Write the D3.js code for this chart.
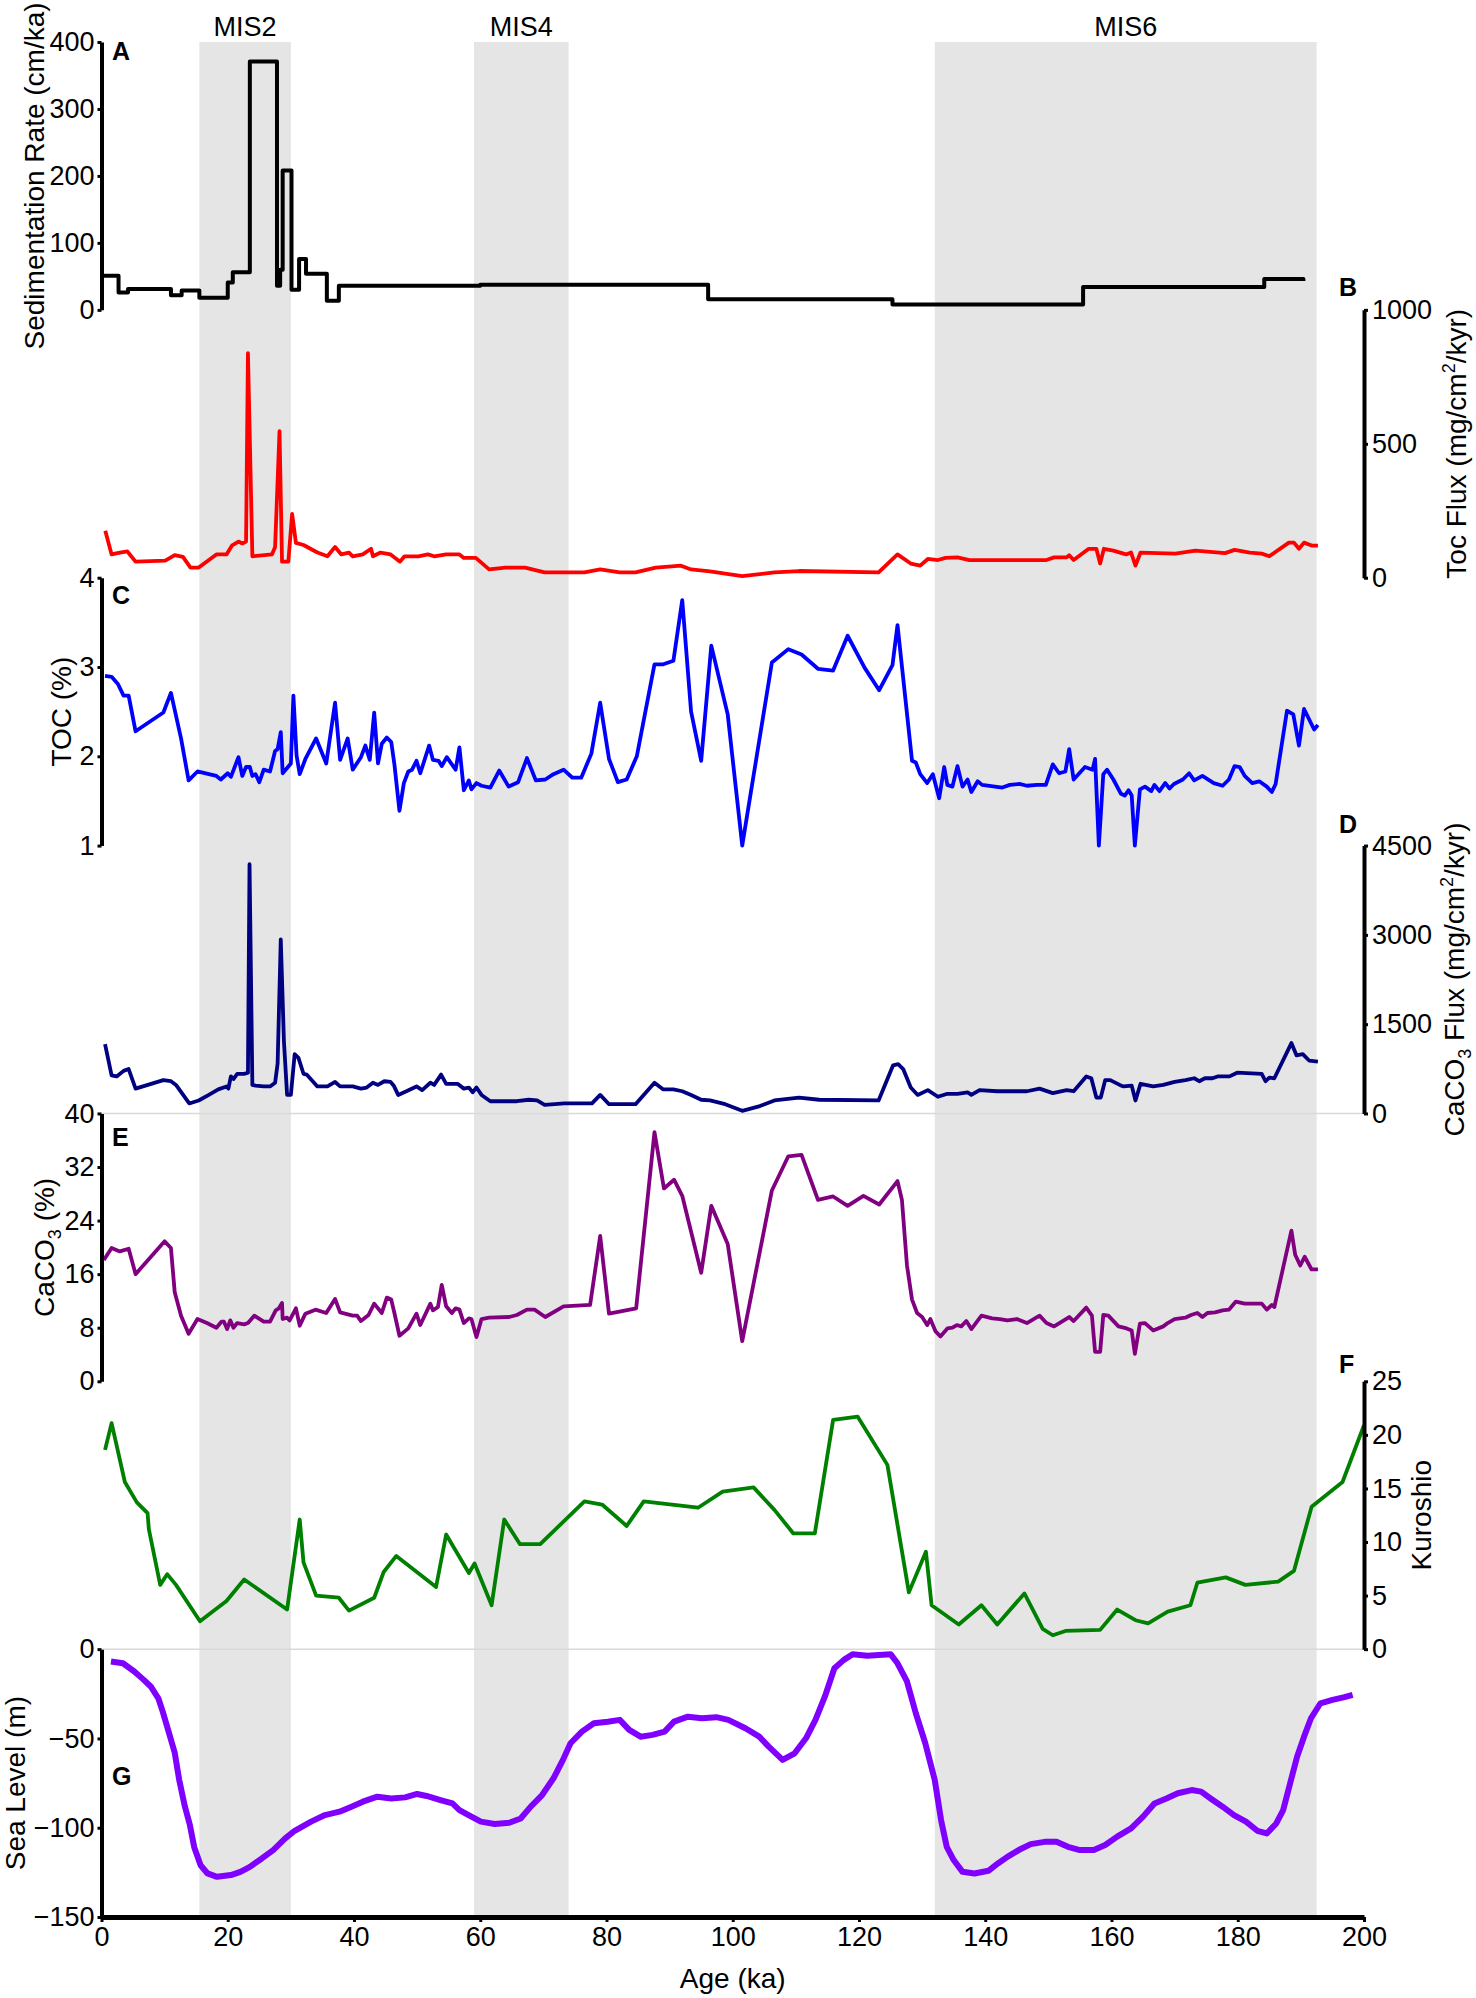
<!DOCTYPE html>
<html>
<head>
<meta charset="utf-8">
<script src="https://cdn.jsdelivr.net/npm/d3@7"></script>
<style>
  body { margin: 0; background: #fff; }
  text { font-family: "Liberation Sans", Arial, sans-serif; }
</style>
</head>
<body>
<div id="chart"></div>
<script>
// ---- data ----
const misNames = ['MIS2', 'MIS4', 'MIS6'];
const misStart = [15.5, 59, 132];
const misEnd = [30, 74, 192.5];

const ageTicks = [0, 20, 40, 60, 80, 100, 120, 140, 160, 180, 200];
const sedTicks = [0, 100, 200, 300, 400];
const tocFluxTicks = [0, 500, 1000];
const tocTicks = [1, 2, 3, 4];
const carbFluxTicks = [0, 1500, 3000, 4500];
const carbTicks = [0, 8, 16, 24, 32, 40];
const kuroTicks = [0, 5, 10, 15, 20, 25];
const seaTicks = [-150, -100, -50, 0];

// A: sedimentation rate (step)
const sedAge = [0, 2.7, 4.2, 11.0, 12.7, 15.5, 20.0, 20.8, 23.5, 27.8, 28.3, 28.7, 30.1, 31.3, 32.4, 35.7, 37.6, 60.0, 96.1, 125.3, 155.5, 184.2, 190.4];
const sedRate = [51, 26, 31, 22, 29, 18, 41, 56, 371, 36, 60, 208, 30, 76, 54, 13.5, 36, 37.5, 16, 8, 34, 46, 43];

// B: TOC flux
const tocFluxAge = [0.6, 1.6, 2.9, 4.1, 5.4, 10.1, 11.6, 12.9, 14.1, 15.4,
  18.2, 19.8, 20.7, 21.7, 22.3, 22.9, 23.2, 23.9, 27.0, 27.5,
  28.2, 28.6, 29.6, 30.2, 30.8, 32.0, 34.2, 35.8, 37.0, 38.0,
  39.2, 39.8, 41.4, 42.7, 43.0, 44.2, 45.8, 47.3, 48.0, 50.2,
  51.7, 52.7, 54.6, 56.7, 57.4, 59.3, 61.4, 64.0, 67.1, 70.2,
  76.5, 79.0, 82.1, 84.6, 87.8, 91.8, 93.4, 96.4, 101.5, 106.6,
  110.5, 123.1, 126.1, 128.2, 129.7, 130.9, 132.5, 133.7, 135.6, 137.5,
  149.7, 150.9, 152.9, 153.3, 154.0, 156.4, 157.6, 158.2, 158.8, 160.3,
  162.3, 163.1, 163.8, 164.6, 170.1, 173.3, 178.0, 179.5, 181.9, 183.8,
  185.0, 188.1, 188.9, 189.7, 190.5, 191.7, 192.7];
const tocFlux = [175, 87, 94, 98, 60, 64, 84, 78, 38, 38,
  87, 87, 121, 135, 128, 135, 838, 80, 87, 115,
  547, 60, 60, 238, 130, 122, 94, 80, 115, 87,
  94, 80, 87, 108, 80, 94, 87, 60, 80, 80,
  87, 80, 87, 87, 74, 74, 31, 38, 38, 20,
  20, 31, 20, 20, 38, 45, 31, 24, 6, 20,
  25, 20, 87, 53, 45, 70, 66, 74, 76, 66,
  66, 76, 76, 84, 66, 108, 108, 53, 108, 101,
  87, 94, 45, 94, 90, 101, 92, 104, 94, 90,
  80, 131, 131, 108, 131, 120, 120];

// C: TOC (%)
const tocAge = [0.56, 1.6, 2.6, 3.5, 4.3, 5.4, 9.8, 11.0, 12.6, 13.8,
  15.2, 17.0, 18.2, 18.9, 20.0, 20.5, 21.7, 22.3, 22.9, 23.5,
  23.9, 24.4, 25.0, 25.7, 26.7, 27.5, 27.9, 28.4, 28.7, 30.0,
  30.4, 30.9, 31.4, 32.3, 34.0, 35.6, 37.0, 37.8, 39.0, 39.8,
  41.1, 41.8, 42.5, 43.2, 43.8, 44.4, 45.2, 45.9, 46.4, 47.2,
  47.9, 48.6, 49.2, 49.9, 50.5, 51.9, 52.5, 53.4, 53.9, 54.7,
  56.1, 56.7, 57.4, 58.2, 58.6, 59.4, 60.2, 61.6, 63.0, 64.5,
  66.0, 67.4, 68.8, 70.3, 71.6, 73.2, 74.6, 76.0, 77.6, 79.0,
  80.4, 81.8, 83.2, 84.8, 87.6, 89.0, 90.6, 92.0, 93.4, 95.0,
  96.6, 99.2, 101.5, 106.2, 108.8, 110.9, 113.5, 115.9, 118.2, 120.9,
  123.2, 125.3, 126.1, 128.4, 129.0, 129.7, 130.8, 131.7, 132.7, 133.5,
  134.0, 134.8, 135.6, 136.4, 137.2, 137.8, 138.8, 139.5, 142.7, 143.9,
  145.4, 146.6, 148.2, 149.6, 150.7, 151.7, 152.7, 153.3, 154.0, 155.8,
  157.0, 157.4, 158.0, 158.7, 159.3, 160.3, 161.5, 162.1, 162.7, 163.2,
  163.7, 164.5, 165.3, 166.3, 166.8, 167.6, 168.5, 169.2, 169.9, 171.3,
  172.3, 173.1, 174.4, 176.2, 177.6, 178.6, 179.5, 180.3, 181.1, 182.3,
  183.4, 184.6, 185.4, 186.0, 187.8, 188.8, 189.7, 190.5, 192.1, 192.7];
const toc = [2.90, 2.89, 2.81, 2.68, 2.68, 2.28, 2.49, 2.71, 2.20, 1.73,
  1.83, 1.80, 1.78, 1.74, 1.81, 1.77, 1.99, 1.78, 1.88, 1.88,
  1.78, 1.80, 1.71, 1.85, 1.83, 2.06, 2.08, 2.27, 1.81, 1.92,
  2.68, 2.01, 1.80, 1.97, 2.20, 1.92, 2.60, 1.96, 2.20, 1.85,
  1.99, 2.12, 1.96, 2.49, 1.92, 2.14, 2.21, 2.16, 1.91, 1.39,
  1.70, 1.83, 1.85, 1.95, 1.81, 2.12, 1.96, 1.95, 1.89, 1.99,
  1.85, 2.10, 1.62, 1.73, 1.63, 1.70, 1.67, 1.65, 1.84, 1.66,
  1.71, 1.98, 1.73, 1.74, 1.80, 1.85, 1.76, 1.76, 2.03, 2.60,
  1.97, 1.71, 1.74, 2.00, 3.03, 3.03, 3.07, 3.75, 2.50, 1.95,
  3.24, 2.47, 1.00, 3.05, 3.20, 3.14, 2.98, 2.96, 3.35, 2.99,
  2.74, 3.02, 3.47, 1.95, 1.93, 1.80, 1.70, 1.80, 1.53, 1.88,
  1.68, 1.66, 1.89, 1.66, 1.74, 1.60, 1.72, 1.68, 1.65, 1.68,
  1.69, 1.67, 1.68, 1.68, 1.91, 1.81, 1.83, 2.08, 1.74, 1.88,
  1.85, 1.97, 1.00, 1.80, 1.85, 1.74, 1.58, 1.56, 1.62, 1.56,
  1.00, 1.63, 1.66, 1.61, 1.68, 1.61, 1.70, 1.64, 1.69, 1.74,
  1.81, 1.73, 1.78, 1.70, 1.67, 1.74, 1.89, 1.88, 1.78, 1.70,
  1.72, 1.66, 1.60, 1.69, 2.51, 2.47, 2.12, 2.53, 2.30, 2.35];

// D: CaCO3 flux
const carbFluxAge = [0.56, 1.6, 2.4, 3.5, 4.3, 5.4, 9.8, 11.0, 11.8, 13.9,
  15.4, 17.0, 18.5, 19.8, 20.1, 20.5, 20.9, 21.5, 22.6, 23.2,
  23.45, 23.9, 24.4, 25.7, 26.7, 27.5, 27.9, 28.4, 28.9, 29.4,
  30.0, 30.6, 31.2, 32.0, 32.5, 34.2, 35.8, 37.0, 37.8, 39.8,
  41.1, 42.0, 43.0, 43.8, 44.8, 45.8, 46.3, 47.0, 48.3, 49.9,
  50.8, 52.1, 52.7, 53.8, 54.6, 55.7, 56.4, 57.4, 58.2, 58.8,
  59.4, 60.2, 61.6, 65.8, 67.7, 69.0, 70.2, 71.8, 73.3, 77.7,
  79.0, 80.4, 84.6, 87.6, 89.0, 90.6, 92.0, 93.4, 95.0, 96.4,
  98.8, 101.5, 104.3, 106.6, 110.5, 113.7, 123.1, 125.4, 126.2, 127.0,
  128.2, 129.3, 130.9, 132.5, 134.0, 135.6, 137.2, 137.8, 139.1, 141.9,
  146.6, 148.6, 150.7, 152.9, 154.0, 156.0, 156.8, 157.6, 158.3, 159.0,
  159.8, 161.3, 161.9, 163.2, 163.8, 164.6, 166.6, 168.2, 170.0, 171.7,
  173.1, 173.9, 174.8, 176.0, 176.8, 178.7, 179.9, 183.8, 184.4, 185.0,
  185.8, 188.5, 189.3, 190.3, 191.3, 192.7];
const carbFlux = [1163, 641, 622, 715, 746, 417, 560, 541, 479, 168,
  218, 311, 404, 454, 417, 622, 578, 666, 666, 684,
  4186, 480, 467, 454, 454, 516, 840, 2923, 1213, 311,
  311, 995, 933, 666, 653, 454, 454, 529, 454, 454,
  417, 435, 516, 479, 541, 529, 467, 311, 373, 454,
  392, 516, 479, 653, 498, 498, 498, 417, 435, 355,
  435, 311, 205, 205, 230, 218, 143, 155, 168, 168,
  311, 155, 155, 516, 404, 404, 373, 311, 230, 218,
  155, 44, 124, 218, 267, 230, 218, 809, 827, 746,
  435, 311, 392, 280, 330, 330, 355, 311, 392, 373,
  373, 417, 342, 392, 373, 622, 591, 267, 267, 560,
  560, 479, 454, 467, 218, 498, 454, 479, 529, 560,
  591, 541, 591, 591, 622, 622, 684, 666, 541, 603,
  591, 1182, 977, 995, 889, 871];

// E: CaCO3 (%)
const carbAge = [0.37, 1.6, 2.9, 4.3, 5.4, 10.0, 11.0, 11.6, 12.6, 13.8,
  15.2, 16.7, 18.2, 19.0, 19.4, 19.9, 20.4, 20.9, 21.5, 22.6,
  23.2, 24.2, 25.7, 26.7, 27.6, 28.1, 28.6, 28.7, 29.4, 29.8,
  30.8, 31.4, 32.3, 33.9, 35.6, 37.0, 37.8, 39.8, 40.5, 41.1,
  42.3, 43.2, 44.4, 45.2, 45.9, 46.4, 47.2, 48.6, 49.9, 50.5,
  52.1, 52.5, 53.3, 53.9, 54.6, 55.5, 56.1, 56.7, 57.4, 58.2,
  58.6, 59.4, 60.2, 61.4, 64.6, 65.8, 67.4, 68.6, 70.3, 73.2,
  77.4, 79.0, 80.4, 84.7, 87.6, 89.1, 90.7, 92.0, 95.0, 96.6,
  99.2, 101.5, 106.2, 108.8, 110.9, 113.5, 115.9, 118.2, 120.7, 123.2,
  126.1, 126.8, 127.6, 128.4, 129.2, 130.0, 130.8, 131.3, 132.1, 132.9,
  134.0, 134.8, 135.5, 136.2, 137.0, 137.8, 139.4, 141.1, 142.3, 143.5,
  145.0, 146.6, 148.6, 149.7, 150.9, 153.3, 154.0, 156.0, 156.9, 157.4,
  158.2, 158.7, 159.5, 161.1, 162.4, 163.2, 163.7, 164.5, 165.3, 166.6,
  168.2, 168.9, 170.0, 171.7, 172.6, 173.6, 174.4, 175.2, 176.4, 177.6,
  178.6, 179.7, 181.1, 183.8, 184.6, 185.4, 185.8, 188.5, 189.1, 189.9,
  190.6, 191.7, 192.7];
const carb = [18.1, 19.9, 19.4, 19.8, 16.0, 20.9, 19.9, 13.3, 9.8, 7.1,
  9.3, 8.7, 8.0, 8.9, 8.9, 7.8, 9.1, 8.0, 8.7, 8.5,
  8.7, 9.8, 8.9, 8.9, 10.6, 10.9, 11.7, 9.3, 9.5, 9.1,
  10.9, 8.3, 10.1, 10.7, 10.2, 12.3, 10.3, 9.8, 9.8, 9.0,
  9.9, 11.6, 10.2, 12.5, 12.2, 10.2, 6.8, 7.9, 10.1, 8.4,
  11.6, 10.6, 11.1, 14.4, 11.2, 10.2, 10.9, 10.7, 8.7, 9.4,
  9.3, 6.6, 9.3, 9.5, 9.6, 9.9, 10.7, 10.7, 9.6, 11.2,
  11.4, 21.7, 10.1, 10.9, 37.2, 28.8, 30.1, 27.7, 16.2, 26.2,
  20.5, 6.0, 28.5, 33.6, 33.8, 27.1, 27.6, 26.2, 27.7, 26.4,
  29.9, 27.1, 17.3, 12.2, 10.2, 9.6, 8.4, 9.3, 7.5, 6.7,
  7.9, 8.0, 8.4, 8.2, 9.0, 7.8, 9.8, 9.4, 9.3, 9.1,
  9.3, 8.7, 9.8, 8.7, 8.2, 9.6, 9.0, 11.0, 9.8, 4.4,
  4.4, 9.9, 9.8, 8.2, 7.9, 7.6, 4.1, 8.6, 8.7, 7.6,
  8.2, 8.7, 9.3, 9.5, 9.9, 10.2, 9.6, 10.2, 10.3, 10.6,
  10.7, 11.9, 11.6, 11.6, 10.7, 11.4, 11.1, 22.5, 18.9, 17.3,
  18.6, 16.7, 16.7];

// F: Kuroshio
const kuroAge = [0.56, 1.6, 3.7, 5.6, 7.3, 7.5, 9.3, 10.4, 11.8, 15.6,
  19.8, 22.6, 29.4, 31.4, 32.0, 34.0, 37.6, 39.2, 43.2, 44.7,
  46.7, 53.0, 54.6, 58.2, 59.1, 61.8, 63.8, 66.3, 69.5, 76.5,
  79.3, 83.2, 85.9, 94.5, 98.4, 103.3, 106.6, 109.6, 113.0, 115.9,
  119.8, 124.5, 127.9, 130.6, 131.5, 135.8, 139.4, 141.9, 146.2, 149.1,
  150.7, 152.7, 158.2, 160.9, 163.8, 165.8, 168.9, 172.5, 173.6, 178.1,
  181.2, 186.4, 188.9, 191.7, 196.6, 200.0];
const kuro = [18.6, 21.1, 15.6, 13.7, 12.7, 11.2, 6.0, 7.0, 6.0, 2.6,
  4.5, 6.5, 3.7, 12.1, 8.1, 5.0, 4.8, 3.6, 4.8, 7.2,
  8.7, 5.8, 10.7, 7.1, 8.0, 4.1, 12.1, 9.8, 9.8, 13.8,
  13.5, 11.5, 13.8, 13.2, 14.7, 15.1, 13.0, 10.8, 10.8, 21.4,
  21.7, 17.2, 5.3, 9.1, 4.1, 2.3, 4.1, 2.3, 5.2, 1.9,
  1.3, 1.7, 1.8, 3.7, 2.7, 2.4, 3.5, 4.1, 6.2, 6.7,
  6.0, 6.3, 7.3, 13.3, 15.6, 20.9];

// G: sea level
const seaAge = [1.5, 3.4, 5.2, 6.7, 7.8, 9.0, 9.7, 10.7, 11.6, 12.3,
  13.2, 14.0, 14.7, 15.7, 16.8, 18.3, 20.5, 22.0, 23.5, 25.4,
  27.2, 29.1, 30.6, 33.2, 35.4, 37.7, 39.6, 41.4, 43.7, 45.9,
  48.1, 50.0, 51.5, 53.7, 55.6, 56.7, 58.6, 60.1, 62.3, 64.6,
  66.4, 68.0, 69.8, 71.6, 73.1, 74.3, 76.1, 78.0, 80.2, 82.1,
  83.6, 85.4, 87.3, 89.2, 90.7, 92.9, 95.1, 97.4, 99.3, 102.0,
  104.2, 105.7, 107.9, 109.8, 111.6, 113.1, 114.6, 116.1, 117.6, 119.0,
  121.3, 125.0, 126.1, 127.6, 129.0, 130.5, 132.0, 133.0, 133.9, 135.0,
  136.4, 138.3, 140.5, 142.0, 143.5, 145.3, 147.2, 149.4, 151.3, 153.1,
  155.0, 157.2, 159.0, 160.9, 163.1, 165.0, 166.8, 168.7, 170.5, 172.7,
  174.2, 175.7, 177.6, 179.4, 181.3, 183.1, 184.6, 186.1, 187.2, 188.3,
  189.4, 190.5, 191.6, 193.1, 195.0, 196.9, 198.2];
const seaLevel = [-6.9, -7.9, -12.5, -17.2, -20.9, -27.5, -35, -47, -58, -73,
  -88, -98.5, -111, -121, -125.6, -127.5, -126.5, -124.7, -121.9, -117.2,
  -112.5, -106, -101.7, -96.6, -92.9, -91, -88.2, -85.4, -82.6, -83.6,
  -83, -81.1, -82.2, -84.5, -86.4, -90.1, -93.8, -96.6, -97.9, -97.2,
  -94.8, -88.2, -81.7, -72.3, -62, -52.7, -46.2, -41.5, -40.6, -39.6,
  -45.2, -49, -48, -46.2, -40.6, -37.8, -38.7, -38.1, -39.6, -44.3,
  -49, -54.6, -62, -58.3, -49.9, -39.6, -26.5, -10.7, -6, -2.8,
  -3.7, -2.8, -7.9, -18.1, -35.9, -52.7, -73.3, -95.7, -110.7, -118.1,
  -124.7, -125.6, -124.1, -120, -116.3, -112.5, -109.2, -107.9, -107.9, -110.7,
  -112.5, -112.5, -109.7, -105, -100.4, -93.8, -86.4, -83.6, -80.7, -78.9,
  -79.8, -83.6, -88.2, -92.9, -96.6, -101.7, -103.2, -97.6, -90.1, -75.1,
  -60.2, -49, -38.7, -30.3, -28.4, -26.9, -25.6];

// ---- layout ----
const width = 1476;
const height = 1998;
const plotLeft = 101.5;
const plotRight = 1364;
const plotTop = 42;
const panelH = 267.86;
const fontSize = 27;
const titleSize = 28;
const tickFmt = d3.format('d');

const panels = [
  {label: 'A', ages: sedAge, vals: sedRate, domain: [0, 400], ticks: sedTicks, side: 'left',
   color: '#000000', lw: 4, step: true, title: [['Sedimentation Rate (cm/ka)', '']], titleX: 44,
   labelX: 112, labelY: 60},
  {label: 'B', ages: tocFluxAge, vals: tocFlux, domain: [0, 1000], ticks: tocFluxTicks, side: 'right',
   color: '#ff0000', lw: 3.8, title: [['Toc Flux (mg/cm', ''], ['2', 'sup'], ['/kyr)', '']], titleX: 1466,
   labelX: 1339, labelY: 296},
  {label: 'C', ages: tocAge, vals: toc, domain: [1, 4], ticks: tocTicks, side: 'left',
   color: '#0000ff', lw: 3.8, title: [['TOC (%)', '']], titleX: 71,
   labelX: 112, labelY: 604},
  {label: 'D', ages: carbFluxAge, vals: carbFlux, domain: [0, 4500], ticks: carbFluxTicks, side: 'right',
   color: '#000080', lw: 3.8, title: [['CaCO', ''], ['3', 'sub'], [' Flux (mg/cm', ''], ['2', 'sup'], ['/kyr)', '']],
   titleX: 1464, labelX: 1339, labelY: 833},
  {label: 'E', ages: carbAge, vals: carb, domain: [0, 40], ticks: carbTicks, side: 'left',
   color: '#800080', lw: 3.8, title: [['CaCO', ''], ['3', 'sub'], [' (%)', '']], titleX: 54,
   labelX: 112, labelY: 1146},
  {label: 'F', ages: kuroAge, vals: kuro, domain: [0, 25], ticks: kuroTicks, side: 'right',
   color: '#008000', lw: 3.8, title: [['Kuroshio', '']], titleX: 1431,
   labelX: 1339, labelY: 1373},
  {label: 'G', ages: seaAge, vals: seaLevel, domain: [-150, 0], ticks: seaTicks, side: 'left',
   color: '#7f00ff', lw: 6, title: [['Sea Level (m)', '']], titleX: 25,
   labelX: 112, labelY: 1785}
];

const svg = d3.select('#chart')
    .append('svg')
    .attr('width', width)
    .attr('height', height);

const x = d3.scaleLinear().domain([0, 200]).range([plotLeft, plotRight]);
const plotBottom = plotTop + panelH * panels.length;

// MIS shading
svg.selectAll('rect.band')
    .data(misNames)
    .enter()
    .append('rect')
    .attr('class', 'band')
    .attr('x', (d, i) => x(misStart[i]))
    .attr('width', (d, i) => x(misEnd[i]) - x(misStart[i]))
    .attr('y', plotTop)
    .attr('height', plotBottom - plotTop)
    .attr('fill', '#e5e5e5');

svg.selectAll('text.mis')
    .data(misNames)
    .enter()
    .append('text')
    .attr('class', 'mis')
    .attr('x', (d, i) => x((misStart[i] + misEnd[i]) / 2))
    .attr('y', 36)
    .attr('text-anchor', 'middle')
    .style('font-size', fontSize + 'px')
    .text(d => d);

// faint panel seams
[4, 6].forEach(k => {
  svg.append('line')
      .attr('x1', plotLeft).attr('x2', plotRight)
      .attr('y1', plotTop + k * panelH).attr('y2', plotTop + k * panelH)
      .attr('stroke', '#d9d9d9')
      .attr('stroke-width', 1.5);
});

function styleAxis(g) {
  g.select('.domain').attr('stroke', '#000').attr('stroke-width', 4);
  g.selectAll('.tick line').attr('stroke', '#000').attr('stroke-width', 3);
  g.selectAll('.tick text')
      .attr('fill', '#000')
      .style('font-family', '"Liberation Sans", Arial, sans-serif')
      .style('font-size', fontSize + 'px');
}

panels.forEach((p, i) => {
  const top = plotTop + i * panelH;
  const y = d3.scaleLinear().domain(p.domain).range([top + panelH, top]);

  const line = d3.line()
      .x(d => x(d[0]))
      .y(d => y(d[1]))
      .curve(p.step ? d3.curveStepAfter : d3.curveLinear);

  svg.append('path')
      .datum(p.ages.map((a, j) => [a, p.vals[j]]))
      .attr('d', line)
      .attr('fill', 'none')
      .attr('stroke', p.color)
      .attr('stroke-width', p.lw)
      .attr('stroke-linejoin', 'round');

  const axis = (p.side === 'left' ? d3.axisLeft(y) : d3.axisRight(y))
      .tickValues(p.ticks)
      .tickFormat(tickFmt)
      .tickSize(4)
      .tickSizeOuter(0)
      .tickPadding(p.side === 'left' ? 3 : 4);

  svg.append('g')
      .attr('transform', `translate(${p.side === 'left' ? plotLeft : plotRight},0)`)
      .call(axis)
      .call(styleAxis);

  // panel letter
  svg.append('text')
      .attr('x', p.labelX)
      .attr('y', p.labelY)
      .style('font-size', '25px')
      .style('font-weight', 'bold')
      .text(p.label);

  // axis title, rotated
  const t = svg.append('text')
      .attr('transform', `translate(${p.titleX},${top + panelH / 2}) rotate(-90)`)
      .attr('text-anchor', 'middle')
      .style('font-size', titleSize + 'px');
  let shift = 0;
  p.title.forEach(([txt, mode]) => {
    const want = mode === 'sup' ? -11 : mode === 'sub' ? 7 : 0;
    t.append('tspan')
        .attr('dy', want - shift)
        .style('font-size', mode ? '18px' : null)
        .text(txt);
    shift = want;
  });
});

// age axis
svg.append('g')
    .attr('transform', `translate(0,${plotBottom})`)
    .call(d3.axisBottom(x).tickValues(ageTicks).tickFormat(tickFmt).tickSize(5).tickSizeOuter(0).tickPadding(5))
    .call(styleAxis)
    .call(g => g.select('.domain').attr('stroke-width', 5));

svg.append('text')
    .attr('x', (plotLeft + plotRight) / 2)
    .attr('y', 1988)
    .attr('text-anchor', 'middle')
    .style('font-size', titleSize + 'px')
    .text('Age (ka)');
</script>
</body>
</html>
